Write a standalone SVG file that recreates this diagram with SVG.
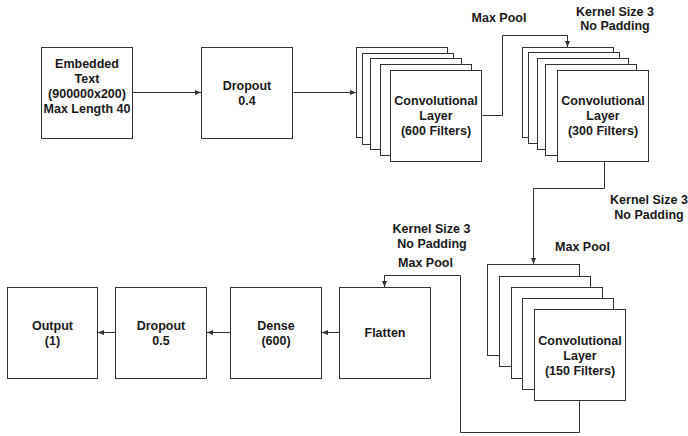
<svg xmlns="http://www.w3.org/2000/svg" width="688" height="436" viewBox="0 0 688 436">
<defs>
<style>
.box{fill:#fff;stroke:#333;stroke-width:1}
.t{font-family:"Liberation Sans",Arial,sans-serif;font-weight:bold;font-size:12.5px;fill:#1a1a1a;text-anchor:middle}
.c{fill:none;stroke:#333;stroke-width:1}
</style>
<marker id="ah" markerWidth="6" markerHeight="6" viewBox="0 0 6 6" refX="6" refY="3" orient="auto" markerUnits="userSpaceOnUse">
<path d="M0,0.5 L6,3 L0,5.5 Z" fill="#333"/>
</marker>
</defs>
<rect width="688" height="436" fill="#fff"/>
<g id="connectors">
<path class="c" d="M132.5,92.5 H201" marker-end="url(#ah)"/>
<path class="c" d="M293.5,92.5 H356" marker-end="url(#ah)"/>
<path class="c" d="M482.5,115.5 H502.5 V35.5 H567.5 V47" marker-end="url(#ah)"/>
<path class="c" d="M604.5,162 V188.5 H533.5 V264" marker-end="url(#ah)"/>
<path class="c" d="M579.5,401 V432.5 H460.5 V275.5 H384.5 V287" marker-end="url(#ah)"/>
<path class="c" d="M339,332.5 H322" marker-end="url(#ah)"/>
<path class="c" d="M230,332.5 H207" marker-end="url(#ah)"/>
<path class="c" d="M115.5,332.5 H98" marker-end="url(#ah)"/>
<text class="t" x="499" y="22">Max Pool</text>
<text class="t" x="615" y="15.5">Kernel Size 3</text>
<text class="t" x="615" y="30">No Padding</text>
<text class="t" x="649" y="204">Kernel Size 3</text>
<text class="t" x="649" y="218.5">No Padding</text>
<text class="t" x="582.5" y="250.5">Max Pool</text>
<text class="t" x="431.5" y="233">Kernel Size 3</text>
<text class="t" x="432" y="248">No Padding</text>
<text class="t" x="425.5" y="267">Max Pool</text>
</g>
<g id="embedded">
<rect class="box" x="41.5" y="47.5" width="91" height="91"/>
<text class="t" x="87" y="68">Embedded</text>
<text class="t" x="87" y="83">Text</text>
<text class="t" x="87" y="98">(900000x200)</text>
<text class="t" x="87" y="112.5">Max Length 40</text>
</g>
<g id="dropout1">
<rect class="box" x="201.5" y="47.5" width="91" height="91"/>
<text class="t" x="247" y="89.5">Dropout</text>
<text class="t" x="247" y="105">0.4</text>
</g>
<g id="conv600">
<rect class="box" x="356.5" y="47.5" width="91" height="90"/>
<rect class="box" x="362.5" y="53.5" width="91" height="91"/>
<rect class="box" x="370.5" y="58.5" width="91" height="91"/>
<rect class="box" x="380.5" y="64.5" width="91" height="91"/>
<rect class="box" x="390.5" y="70.5" width="91" height="91"/>
<text class="t" x="436" y="104.5">Convolutional</text>
<text class="t" x="436" y="120">Layer</text>
<text class="t" x="436" y="135">(600 Filters)</text>
</g>
<g id="conv300">
<rect class="box" x="522.5" y="47.5" width="91" height="90"/>
<rect class="box" x="528.5" y="52.5" width="91" height="91"/>
<rect class="box" x="537.5" y="58.5" width="91" height="91"/>
<rect class="box" x="545.5" y="64.5" width="91" height="91"/>
<rect class="box" x="557.5" y="70.5" width="91" height="91"/>
<text class="t" x="603" y="104.5">Convolutional</text>
<text class="t" x="603" y="120">Layer</text>
<text class="t" x="603" y="135">(300 Filters)</text>
</g>
<g id="conv150">
<rect class="box" x="487.5" y="264.5" width="92" height="91"/>
<rect class="box" x="499.5" y="276.5" width="91" height="90"/>
<rect class="box" x="511.5" y="287.5" width="91" height="91"/>
<rect class="box" x="522.5" y="298.5" width="91" height="91"/>
<rect class="box" x="534.5" y="309.5" width="91" height="91"/>
<text class="t" x="580" y="345">Convolutional</text>
<text class="t" x="580" y="360">Layer</text>
<text class="t" x="580" y="375">(150 Filters)</text>
</g>
<g id="flatten">
<rect class="box" x="339.5" y="287.5" width="91" height="91"/>
<text class="t" x="385" y="337">Flatten</text>
</g>
<g id="dense">
<rect class="box" x="230.5" y="287.5" width="91" height="91"/>
<text class="t" x="276" y="329.5">Dense</text>
<text class="t" x="276" y="345">(600)</text>
</g>
<g id="dropout2">
<rect class="box" x="115.5" y="287.5" width="91" height="91"/>
<text class="t" x="161" y="329.5">Dropout</text>
<text class="t" x="161" y="345">0.5</text>
</g>
<g id="output">
<rect class="box" x="7.5" y="287.5" width="90" height="91"/>
<text class="t" x="52.5" y="329.5">Output</text>
<text class="t" x="52.5" y="345">(1)</text>
</g>
</svg>
